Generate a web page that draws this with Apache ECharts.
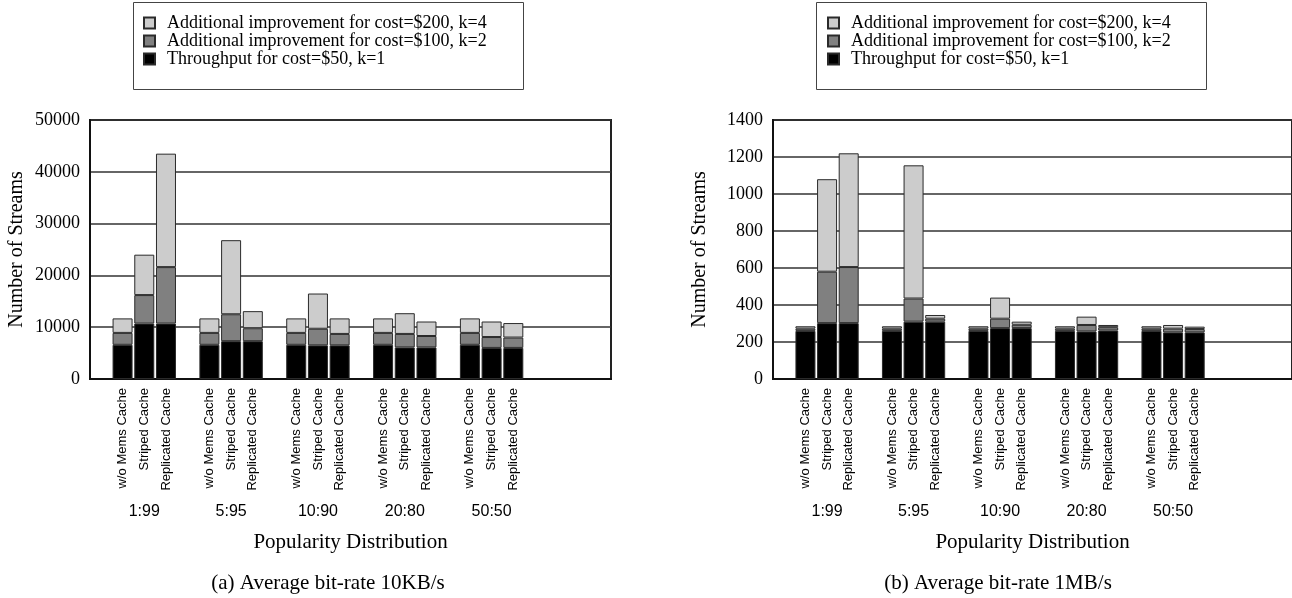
<!DOCTYPE html>
<html>
<head>
<meta charset="utf-8">
<script src="https://cdn.jsdelivr.net/npm/echarts@6/dist/echarts.min.js"></script>
<style>
  html, body { margin: 0; padding: 0; background: #fff; }
  #chart { width: 1292px; height: 598px; }
</style>
</head>
<body>
<div id="chart"></div>
<script>
// Popularity distributions (groups) and cache configurations (bars inside a group)
const groups = ['1:99', '5:95', '10:90', '20:80', '50:50'];
const caches = ['w/o Mems Cache', 'Striped Cache', 'Replicated Cache'];
const seriesNames = [
  'Throughput for cost=$50, k=1',
  'Additional improvement for cost=$100, k=2',
  'Additional improvement for cost=$200, k=4'
];
const seriesColors = ['#000000', '#808080', '#cccccc'];

// (a) average bit-rate 10KB/s; order per group: w/o, striped, replicated
const baseA = [6600, 10700, 10700,  6600, 7300, 7300,  6600, 6500, 6500,  6600, 6100, 6100,  6600, 6000, 6000];
const add2A = [2300, 5500, 10900,   2300, 5200, 2500,  2300, 3200, 2200,  2300, 2600, 2200,  2300, 2100, 2000];
const add4A = [2800, 7800, 21900,   2800, 14300, 3300, 2800, 6800, 3000,  2800, 4000, 2800,  2800, 3000, 2800];

// (b) average bit-rate 1MB/s
const baseB = [260, 302, 302,  260, 310, 310,  260, 275, 275,  260, 257, 262,  260, 252, 252];
const add2B = [12, 278, 303,   12, 125, 16,    12, 51, 18,     12, 35, 18,     12, 20, 18];
const add4B = [13, 500, 615,   13, 720, 20,    13, 114, 17,    13, 45, 12,     13, 20, 13];

const yAxisA = { min: 0, max: 50000, interval: 10000 };
const yAxisB = { min: 0, max: 1400, interval: 200 };

// Each group takes four slots on the category axis: a spacer and three bars.
// One extra empty group keeps the right part of the plot free.
const SLOTS = 4;
const totalGroups = groups.length + 1;

function slotLabels() {
  const out = [];
  for (let g = 0; g < totalGroups; g++) {
    out.push('');
    for (let c = 0; c < caches.length; c++) out.push(g < groups.length ? caches[c] : '');
  }
  return out;
}
function groupLabels() {
  const out = [];
  for (let g = 0; g < totalGroups; g++) {
    for (let s = 0; s < SLOTS; s++) out.push(g < groups.length && s === 2 ? groups[g] : '');
  }
  return out;
}
function toSlots(values) {
  const out = [];
  for (let g = 0; g < totalGroups; g++) {
    out.push('-');
    for (let c = 0; c < caches.length; c++) {
      out.push(g < groups.length ? values[g * caches.length + c] : '-');
    }
  }
  return out;
}

const serif = 'Liberation Serif';
const sans = 'Liberation Sans';
const catLabels = slotLabels();
const grpLabels = groupLabels();

function xAxesFor(gridIndex) {
  return [
    {
      gridIndex, type: 'category', data: catLabels,
      axisLine: { show: true, lineStyle: { color: '#111', width: 2 } },
      axisTick: { show: false },
      axisLabel: { interval: 0, rotate: 90, fontFamily: sans, fontSize: 13, color: '#000', margin: 9 }
    },
    {
      gridIndex, type: 'category', data: grpLabels, position: 'bottom', offset: 123,
      axisLine: { show: false }, axisTick: { show: false },
      axisLabel: { interval: 0, fontFamily: sans, fontSize: 16, color: '#000', margin: 2 },
      name: 'Popularity Distribution', nameLocation: 'middle', nameGap: 30,
      nameTextStyle: { fontFamily: serif, fontSize: 21, color: '#000' }
    }
  ];
}
function yAxisFor(gridIndex, range) {
  return {
    gridIndex, type: 'value', min: range.min, max: range.max, interval: range.interval,
    axisLine: { show: true, lineStyle: { color: '#111', width: 2 } },
    axisTick: { show: false },
    splitLine: { show: true, lineStyle: { color: '#333', width: 1.5 } },
    axisLabel: { formatter: v => String(v), fontFamily: serif, fontSize: 18, color: '#000', margin: 10 },
    name: 'Number of Streams', nameLocation: 'middle', nameGap: 63,
    nameTextStyle: { fontFamily: serif, fontSize: 20, color: '#000' }
  };
}
function seriesFor(xAxisIndex, yAxisIndex, stack, layers) {
  return layers.map((vals, i) => ({
    name: seriesNames[i], type: 'bar', stack, xAxisIndex, yAxisIndex,
    barWidth: 20, data: toSlots(vals),
    itemStyle: { color: seriesColors[i], borderColor: '#2a2a2a', borderWidth: 1 }
  }));
}
function legendAt(left) {
  return {
    left, top: 14, orient: 'vertical', padding: 0, itemGap: 0,
    itemWidth: 11, itemHeight: 11, icon: 'rect', selectedMode: false,
    data: [seriesNames[2], seriesNames[1], seriesNames[0]],
    textStyle: { fontFamily: serif, fontSize: 18, color: '#000', lineHeight: 17, padding: [0, 0, 0, 7] }
  };
}

const chart = echarts.init(document.getElementById('chart'));
chart.setOption({
  animation: false,
  backgroundColor: '#fff',
  grid: [
    { left: 90, top: 120, width: 521, height: 259, show: true, borderColor: '#222', borderWidth: 2 },
    { left: 773, top: 120, width: 521, height: 259, show: true, borderColor: '#222', borderWidth: 2 }
  ],
  xAxis: [...xAxesFor(0), ...xAxesFor(1)],
  yAxis: [yAxisFor(0, yAxisA), yAxisFor(1, yAxisB)],
  legend: [legendAt(143), legendAt(827)],
  series: [
    ...seriesFor(0, 0, 'a', [baseA, add2A, add4A]),
    ...seriesFor(2, 1, 'b', [baseB, add2B, add4B])
  ],
  graphic: [
    { type: 'rect', shape: { x: 133.5, y: 2.5, width: 390, height: 87 },
      style: { fill: 'none', stroke: '#444', lineWidth: 1 } },
    { type: 'rect', shape: { x: 816.5, y: 2.5, width: 390, height: 87 },
      style: { fill: 'none', stroke: '#444', lineWidth: 1 } },
    { type: 'text', x: 328, y: 583,
      style: { text: '(a) Average bit-rate 10KB/s', textAlign: 'center', textVerticalAlign: 'middle',
               font: '21px "Liberation Serif"', fill: '#000' } },
    { type: 'text', x: 998, y: 583,
      style: { text: '(b) Average bit-rate 1MB/s', textAlign: 'center', textVerticalAlign: 'middle',
               font: '21px "Liberation Serif"', fill: '#000' } }
  ]
});
</script>
</body>
</html>
